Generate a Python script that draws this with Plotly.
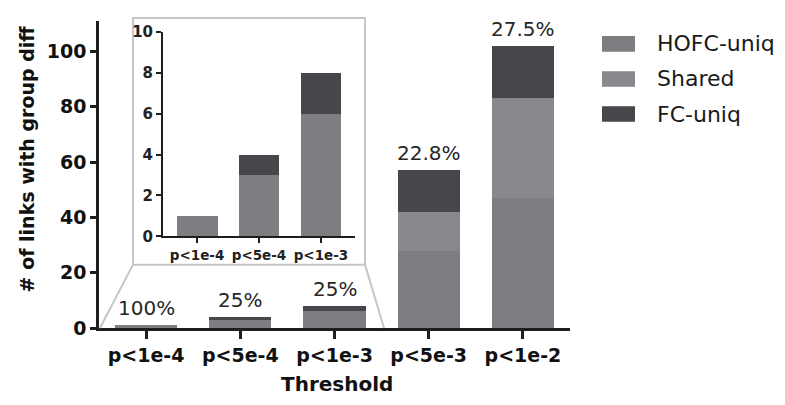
import plotly.graph_objects as go

# ---- data ----
categories = ["p<1e-4", "p<5e-4", "p<1e-3", "p<5e-3", "p<1e-2"]
hofc_uniq = [1, 3, 6, 28, 47]
shared = [0, 0, 0, 14, 36]
fc_uniq = [0, 1, 2, 15, 19]
pct_labels = ["100%", "25%", "25%", "22.8%", "27.5%"]
series_names = ["HOFC-uniq", "Shared", "FC-uniq"]
main_yticks = [0, 20, 40, 60, 80, 100]
inset_yticks = [0, 2, 4, 6, 8, 10]
inset_count = 3  # first three thresholds are zoomed in the inset

colors = ["#7d7e82", "#88898c", "#47474b"]
series_values = [hofc_uniq, shared, fc_uniq]
totals = [a + b + c for a, b, c in zip(hofc_uniq, shared, fc_uniq)]

FONT = "DejaVu Sans"
AXC = "#1e1e1e"

fig = go.Figure()
for name, vals, col in zip(series_names, series_values, colors):
    fig.add_trace(go.Bar(x=categories, y=vals, name=name, marker=dict(color=col, line=dict(width=0)),
                         xaxis="x", yaxis="y", showlegend=False))
    fig.add_trace(go.Bar(x=categories[:inset_count], y=vals[:inset_count], name=name,
                         marker=dict(color=col, line=dict(width=0)),
                         xaxis="x2", yaxis="y2", showlegend=False))

W, H = 785, 405
L, R, T, B = 99, 215, 13, 77
pw, ph = W - L - R, H - T - B

def px(x):
    return (x - L) / pw

def py(y):
    return (H - B - y) / ph

annotations = []
for c, tot, lab in zip(categories, totals, pct_labels):
    annotations.append(dict(x=c, y=tot, xref="x", yref="y", text=lab, showarrow=False,
                            yanchor="bottom", yshift=3,
                            font=dict(family=FONT, size=20, color="#262626")))

# custom legend
shapes = []
for i, (name, col) in enumerate(zip(series_names, colors)):
    cy = 36.5 + 36 * i
    shapes.append(dict(type="rect", xref="paper", yref="paper", x0=px(602), x1=px(635),
                       y0=py(cy + 8), y1=py(cy - 8), fillcolor=col, line=dict(width=0)))
    annotations.append(dict(x=px(655), y=py(cy), xref="paper", yref="paper", text=name,
                            showarrow=False, xanchor="left", yanchor="middle",
                            font=dict(family=FONT, size=22, color="#1a1a1a")))

# inset frame and zoom lines
frame_col = "#c6c6c6"
shapes.append(dict(type="rect", xref="paper", yref="paper", x0=px(133), x1=px(365),
                   y0=py(263), y1=py(10), line=dict(color=frame_col, width=2), layer="below"))
shapes.append(dict(type="line", xref="paper", yref="paper", x0=px(133), y0=py(263),
                   x1=px(100), y1=py(328), line=dict(color=frame_col, width=2)))
shapes.append(dict(type="line", xref="paper", yref="paper", x0=px(365), y0=py(263),
                   x1=px(384), y1=py(328), line=dict(color=frame_col, width=2)))

# axis titles
annotations.append(dict(x=px(27), y=py(155), xref="paper", yref="paper", text="# of links with group diff",
                        textangle=-90, showarrow=False, xanchor="center", yanchor="middle",
                        font=dict(family=FONT, size=19, color="#111", weight="bold")))
annotations.append(dict(x=px(337), y=py(385), xref="paper", yref="paper", text="Threshold",
                        showarrow=False, xanchor="center", yanchor="middle",
                        font=dict(family=FONT, size=20, color="#111", weight="bold")))

fig.update_layout(
    width=W, height=H,
    margin=dict(l=L, r=R, t=T, b=B),
    paper_bgcolor="white", plot_bgcolor="rgba(0,0,0,0)",
    barmode="stack", bargap=0.34,
    xaxis=dict(domain=[0, 1], range=[-0.5, 4.5], showline=True, linecolor=AXC, linewidth=2.5,
               ticks="outside", ticklen=8, tickwidth=2.5, tickcolor=AXC,
               tickfont=dict(family=FONT, size=19, color="#111", weight="bold"),
               showgrid=False, zeroline=False, fixedrange=True),
    yaxis=dict(domain=[0, 1], range=[0, 111], showline=True, linecolor=AXC, linewidth=2.5,
               ticks="outside", ticklen=6, tickwidth=2.5, tickcolor=AXC, tickvals=main_yticks,
               tickfont=dict(family=FONT, size=19, color="#111", weight="bold"),
               showgrid=False, zeroline=False),
    xaxis2=dict(domain=[px(163), px(355)], anchor="y2", range=[-0.55, 2.55], showline=True,
                linecolor=AXC, linewidth=2, ticks="outside", ticklen=5, tickwidth=2, tickcolor=AXC,
                tickfont=dict(family=FONT, size=13.5, color="#222", weight="bold"),
                showgrid=False, zeroline=False),
    yaxis2=dict(domain=[py(234), py(24)], anchor="x2", range=[0, 10], showline=True,
                linecolor=AXC, linewidth=2, ticks="outside", ticklen=5, tickwidth=2, tickcolor=AXC,
                tickvals=inset_yticks,
                tickfont=dict(family=FONT, size=15, color="#222", weight="bold"),
                showgrid=False, zeroline=False),
    annotations=annotations,
    shapes=shapes,
)

fig.write_html("out.html")
